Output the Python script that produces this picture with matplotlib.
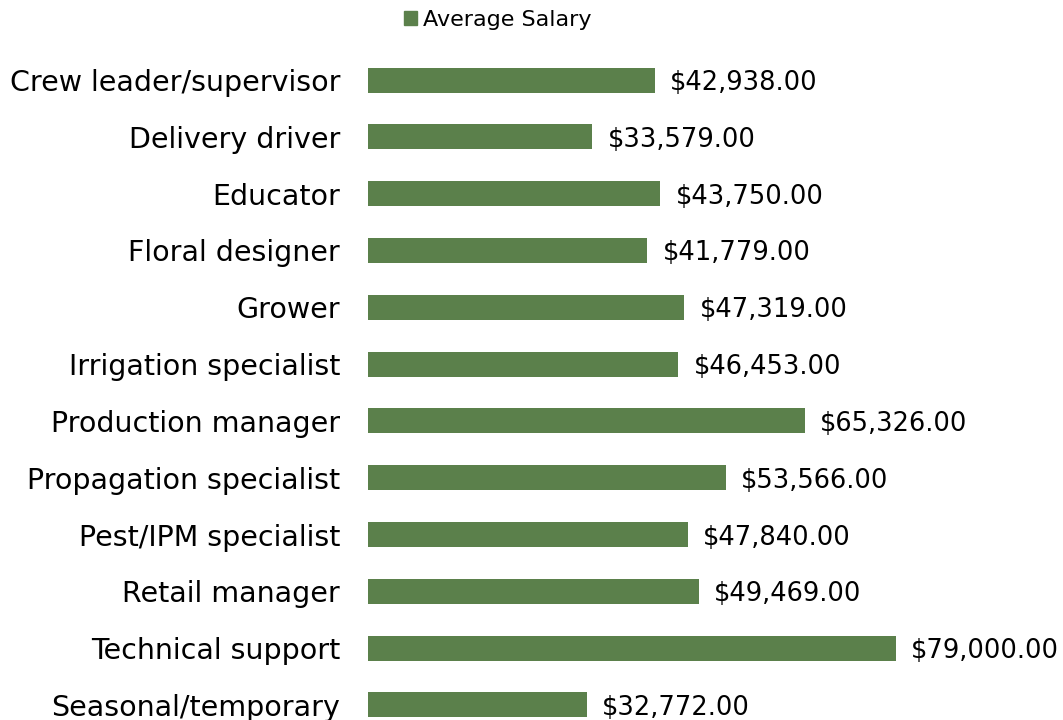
import matplotlib
matplotlib.use("Agg")
import matplotlib.pyplot as plt
from matplotlib.patches import Patch

categories = ["Crew leader/supervisor", "Delivery driver", "Educator", "Floral designer",
              "Grower", "Irrigation specialist", "Production manager", "Propagation specialist",
              "Pest/IPM specialist", "Retail manager", "Technical support", "Seasonal/temporary"]
salaries = [42938, 33579, 43750, 41779, 47319, 46453, 65326, 53566, 47840, 49469, 79000, 32772]
series_name = "Average Salary"

plt.rcParams['font.family'] = ['DejaVu Sans']
color = "#5B804B"

fig = plt.figure(figsize=(10.63, 7.2), dpi=100)
ax = fig.add_axes([368/1063, 0, 1 - 368/1063, (720 - 51.6)/720])
y = list(range(len(categories)))
bars = ax.barh(y, salaries, height=0.44, color=color)
ax.set_xlim(0, 104000)
ax.set_ylim(11 + 15/56.8, -0.5)
ax.set_yticks(y)
ax.set_yticklabels(categories, fontsize=20.5, color="#000000")
ax.tick_params(axis='y', length=0, pad=20)
ax.set_xticks([])
for s in ax.spines.values():
    s.set_visible(False)
for yi, v in zip(y, salaries):
    ax.annotate(f"${v:,.2f}", (v, yi), xytext=(11, 0), textcoords="offset points",
                va="center_baseline", ha="left", fontsize=18.5, color="#000000")

fig.legend(handles=[Patch(color=color, label=series_name)], loc="center",
           bbox_to_anchor=(498/1063, 1 - 20/720), frameon=False, fontsize=16,
           handlelength=0.55, handleheight=0.55, handletextpad=0.3)

fig.savefig("out.png", dpi=100)
